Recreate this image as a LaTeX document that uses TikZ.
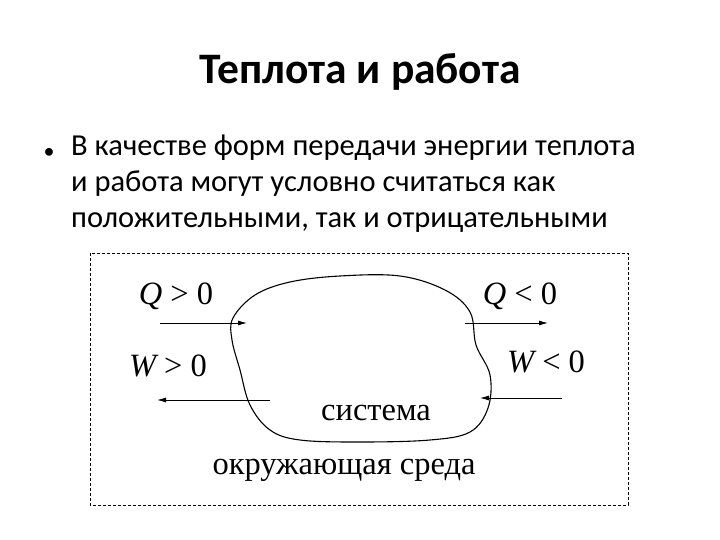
\documentclass[tikz,border=0pt]{standalone}
\usepackage{fontspec}
\setmainfont{Carlito}
\newfontfamily\serif{Liberation Serif}
\usetikzlibrary{arrows.meta}
\begin{document}
\begin{tikzpicture}[x=1pt,y=-1pt,
  lbl/.style={font=\serif\fontsize{32.5}{34}\selectfont, inner sep=0},
  arr/.style={-{Latex[length=9pt,width=5pt]}, line width=0.9pt}]
\useasboundingbox (0,0) rectangle (720,540);
\node (title) at (360,72) {\fontsize{43.5}{46}\selectfont\bfseries Теплота и работа};
\node[anchor=center, inner sep=0] (b) at (49,153) {\fontsize{22}{28}\selectfont •};
\node[anchor=north west, inner sep=0, align=left, font=\fontsize{30.5}{36}\selectfont] (txt) at (71,135)
 {В качестве форм передачи энергии теплота\\и работа могут условно считаться как\\положительными, так и отрицательными};
\draw[dashed, line width=0.8pt, dash pattern=on 3pt off 2pt] (90,253) rectangle (628,505);
\draw[line width=1.1pt] plot[smooth cycle, tension=0.6] coordinates {
 (233,318) (255,295) (290,282) (340,276) (400,276) (445,290) (470,312) (476,345)
 (490,375) (488,408) (470,432) (430,440) (360,442) (300,440) (270,430) (250,405)
 (240,370) (232,340)};
\coordinate (q1s) at (160,323); \coordinate (q1e) at (247,323);
\coordinate (q2s) at (465,323); \coordinate (q2e) at (548,323);
\coordinate (w1s) at (270,400); \coordinate (w1e) at (157,400);
\coordinate (w2s) at (562,398); \coordinate (w2e) at (480,398);
\draw[arr] (q1s) -- (q1e);
\draw[arr] (q2s) -- (q2e);
\draw[arr] (w1s) -- (w1e);
\draw[arr] (w2s) -- (w2e);
\node[lbl] (l1) at (176,296) {\itshape Q\upshape\ >\ 0};
\node[lbl] (l2) at (168,366) {\itshape W\upshape\ >\ 0};
\node[lbl] (l3) at (520,296) {\itshape Q\upshape\ <\ 0};
\node[lbl] (l4) at (546,362) {\itshape W\upshape\ <\ 0};
\node[lbl] (sys) at (376,413) {система};
\node[lbl] (env) at (344,470) {окружающая среда};
\end{tikzpicture}
\end{document}
